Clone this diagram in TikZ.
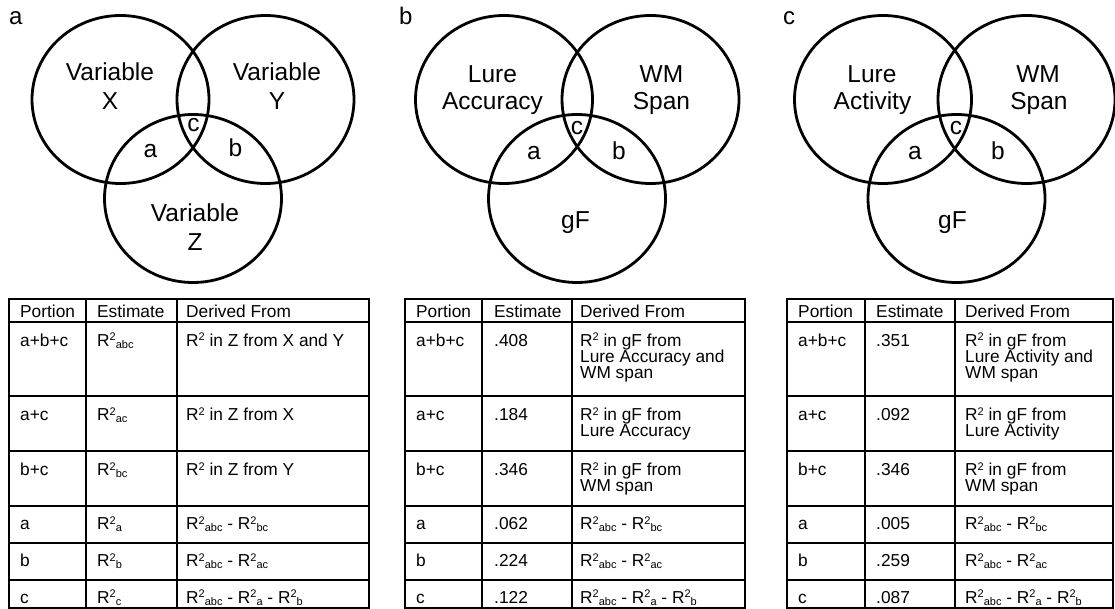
\documentclass[tikz,border=0pt]{standalone}
\usepackage{fontspec}
\setmainfont{Liberation Sans}
\usetikzlibrary{shapes.geometric}
\newcommand\sfnt{\fontsize{11}{11}\selectfont}
\newcommand\Rsq[1]{R\raisebox{5.5pt}{\sfnt 2}\raisebox{-2pt}{\sfnt #1}}
\tikzset{
  venn/.style={draw, line width=2.8pt, ellipse, minimum width=177pt, minimum height=168pt, inner sep=0pt, outer sep=0pt},
  vtxt/.style={anchor=base, font=\fontsize{24.5}{24.5}\selectfont, inner sep=0pt},
  plab/.style={anchor=base west, font=\fontsize{24}{24}\selectfont, inner sep=0pt},
  ttxt/.style={anchor=base west, font=\fontsize{17.3}{17.3}\selectfont, inner sep=0pt},
  grid/.style={line width=1.2pt},
}
\begin{document}
\begin{tikzpicture}[x=1pt,y=-1pt]
\useasboundingbox (0,0) rectangle (1115,609);
% ---------------- panel labels
\node[plab] (la) at (9,25) {a};
\node[plab] (lb) at (399,25) {b};
\node[plab] (lc) at (783,25) {c};
% ---------------- Venn a
\node[venn] (aX) at (120.5,99.5) {};
\node[venn] (aY) at (265.5,99.5) {};
\node[venn] (aZ) at (193,198.5) {};
\node[vtxt] (aX1) at (110,81) {Variable};
\node[vtxt] (aX2) at (110,110) {X};
\node[vtxt] (aY1) at (277,81) {Variable};
\node[vtxt] (aY2) at (277,110) {Y};
\node[vtxt] (aZ1) at (195,222) {Variable};
\node[vtxt] (aZ2) at (195,251) {Z};
\node[vtxt] (ac) at (193.5,132) {c};
\node[vtxt] (aa) at (150.5,158) {a};
\node[vtxt] (ab) at (235.5,157) {b};
% ---------------- Venn b
\node[venn] (bX) at (504,99.5) {};
\node[venn] (bY) at (650.5,99.5) {};
\node[venn] (bZ) at (577,198.5) {};
\node[vtxt] (bX1) at (492.5,83) {Lure};
\node[vtxt] (bX2) at (492.5,110) {Accuracy};
\node[vtxt] (bY1) at (661.5,83) {WM};
\node[vtxt] (bY2) at (661.5,110) {Span};
\node[vtxt] (bc) at (577,135) {c};
\node[vtxt] (ba) at (534,160) {a};
\node[vtxt] (bb) at (619,160) {b};
\node[vtxt] (bg) at (575.5,229) {gF};
% ---------------- Venn c
\node[venn] (cX) at (883,99.5) {};
\node[venn] (cY) at (1026.5,99.5) {};
\node[venn] (cZ) at (956.5,198.5) {};
\node[vtxt] (cX1) at (872,83) {Lure};
\node[vtxt] (cX2) at (872.5,110) {Activity};
\node[vtxt] (cY1) at (1038,83) {WM};
\node[vtxt] (cY2) at (1039,110) {Span};
\node[vtxt] (cc) at (956,135) {c};
\node[vtxt] (ca) at (915,160) {a};
\node[vtxt] (cb) at (998,160) {b};
\node[vtxt] (cg) at (952.5,229) {gF};
% ---------------- table grids
\foreach \L/\A/\B/\R in {9/86/177/369, 405/482/572/745, 787/865/955/1113}{
  \draw[grid] (\L,299) rectangle (\R,608);
  \foreach \y in {322,396,451,506,543,580} \draw[grid] (\L,\y) -- (\R,\y);
  \draw[grid] (\A,299) -- (\A,608);
  \draw[grid] (\B,299) -- (\B,608);
}
% ---------------- table a
\node[ttxt] (ta-h1) at (20,317) {Portion};
\node[ttxt] (ta-h2) at (97,317) {Estimate};
\node[ttxt] (ta-h3) at (186,317) {Derived From};
\node[ttxt] (ta-11) at (20,346) {a+b+c};
\node[ttxt] (ta-12) at (97,346) {\Rsq{abc}};
\node[ttxt] (ta-13) at (186,346) {\Rsq{} in Z from X and Y};
\node[ttxt] (ta-21) at (20,420.5) {a+c};
\node[ttxt] (ta-22) at (97,420.5) {\Rsq{ac}};
\node[ttxt] (ta-23) at (186,420.5) {\Rsq{} in Z from X};
\node[ttxt] (ta-31) at (20,475.5) {b+c};
\node[ttxt] (ta-32) at (97,475.5) {\Rsq{bc}};
\node[ttxt] (ta-33) at (186,475.5) {\Rsq{} in Z from Y};
\node[ttxt] (ta-41) at (20,529.5) {a};
\node[ttxt] (ta-42) at (97,529.5) {\Rsq{a}};
\node[ttxt] (ta-43) at (186,529.5) {\Rsq{abc} - \Rsq{bc}};
\node[ttxt] (ta-51) at (20,566.5) {b};
\node[ttxt] (ta-52) at (97,566.5) {\Rsq{b}};
\node[ttxt] (ta-53) at (186,566.5) {\Rsq{abc} - \Rsq{ac}};
\node[ttxt] (ta-61) at (20,603) {c};
\node[ttxt] (ta-62) at (97,603) {\Rsq{c}};
\node[ttxt] (ta-63) at (186,603) {\Rsq{abc} - \Rsq{a} - \Rsq{b}};
% ---------------- table b
\node[ttxt] (tb-h1) at (416,317) {Portion};
\node[ttxt] (tb-h2) at (494,317) {Estimate};
\node[ttxt] (tb-h3) at (580,317) {Derived From};
\node[ttxt] (tb-11) at (416,346) {a+b+c};
\node[ttxt] (tb-12) at (494,346) {.408};
\node[ttxt] (tb-13) at (580,346) {\Rsq{} in gF from};
\node[ttxt] (tb-13b) at (580,362) {Lure Accuracy and};
\node[ttxt] (tb-13c) at (580,378) {WM span};
\node[ttxt] (tb-21) at (416,420.5) {a+c};
\node[ttxt] (tb-22) at (494,420.5) {.184};
\node[ttxt] (tb-23) at (580,420.5) {\Rsq{} in gF from};
\node[ttxt] (tb-23b) at (580,436.5) {Lure Accuracy};
\node[ttxt] (tb-31) at (416,475.5) {b+c};
\node[ttxt] (tb-32) at (494,475.5) {.346};
\node[ttxt] (tb-33) at (580,475.5) {\Rsq{} in gF from};
\node[ttxt] (tb-33b) at (580,491.5) {WM span};
\node[ttxt] (tb-41) at (416,529.5) {a};
\node[ttxt] (tb-42) at (494,529.5) {.062};
\node[ttxt] (tb-43) at (580,529.5) {\Rsq{abc} - \Rsq{bc}};
\node[ttxt] (tb-51) at (416,566.5) {b};
\node[ttxt] (tb-52) at (494,566.5) {.224};
\node[ttxt] (tb-53) at (580,566.5) {\Rsq{abc} - \Rsq{ac}};
\node[ttxt] (tb-61) at (416,603) {c};
\node[ttxt] (tb-62) at (494,603) {.122};
\node[ttxt] (tb-63) at (580,603) {\Rsq{abc} - \Rsq{a} - \Rsq{b}};
% ---------------- table c
\node[ttxt] (tc-h1) at (798,317) {Portion};
\node[ttxt] (tc-h2) at (876,317) {Estimate};
\node[ttxt] (tc-h3) at (965,317) {Derived From};
\node[ttxt] (tc-11) at (798,346) {a+b+c};
\node[ttxt] (tc-12) at (876,346) {.351};
\node[ttxt] (tc-13) at (965,346) {\Rsq{} in gF from};
\node[ttxt] (tc-13b) at (965,362) {Lure Activity and};
\node[ttxt] (tc-13c) at (965,378) {WM span};
\node[ttxt] (tc-21) at (798,420.5) {a+c};
\node[ttxt] (tc-22) at (876,420.5) {.092};
\node[ttxt] (tc-23) at (965,420.5) {\Rsq{} in gF from};
\node[ttxt] (tc-23b) at (965,436.5) {Lure Activity};
\node[ttxt] (tc-31) at (798,475.5) {b+c};
\node[ttxt] (tc-32) at (876,475.5) {.346};
\node[ttxt] (tc-33) at (965,475.5) {\Rsq{} in gF from};
\node[ttxt] (tc-33b) at (965,491.5) {WM span};
\node[ttxt] (tc-41) at (798,529.5) {a};
\node[ttxt] (tc-42) at (876,529.5) {.005};
\node[ttxt] (tc-43) at (965,529.5) {\Rsq{abc} - \Rsq{bc}};
\node[ttxt] (tc-51) at (798,566.5) {b};
\node[ttxt] (tc-52) at (876,566.5) {.259};
\node[ttxt] (tc-53) at (965,566.5) {\Rsq{abc} - \Rsq{ac}};
\node[ttxt] (tc-61) at (798,603) {c};
\node[ttxt] (tc-62) at (876,603) {.087};
\node[ttxt] (tc-63) at (965,603) {\Rsq{abc} - \Rsq{a} - \Rsq{b}};
\end{tikzpicture}
\end{document}
